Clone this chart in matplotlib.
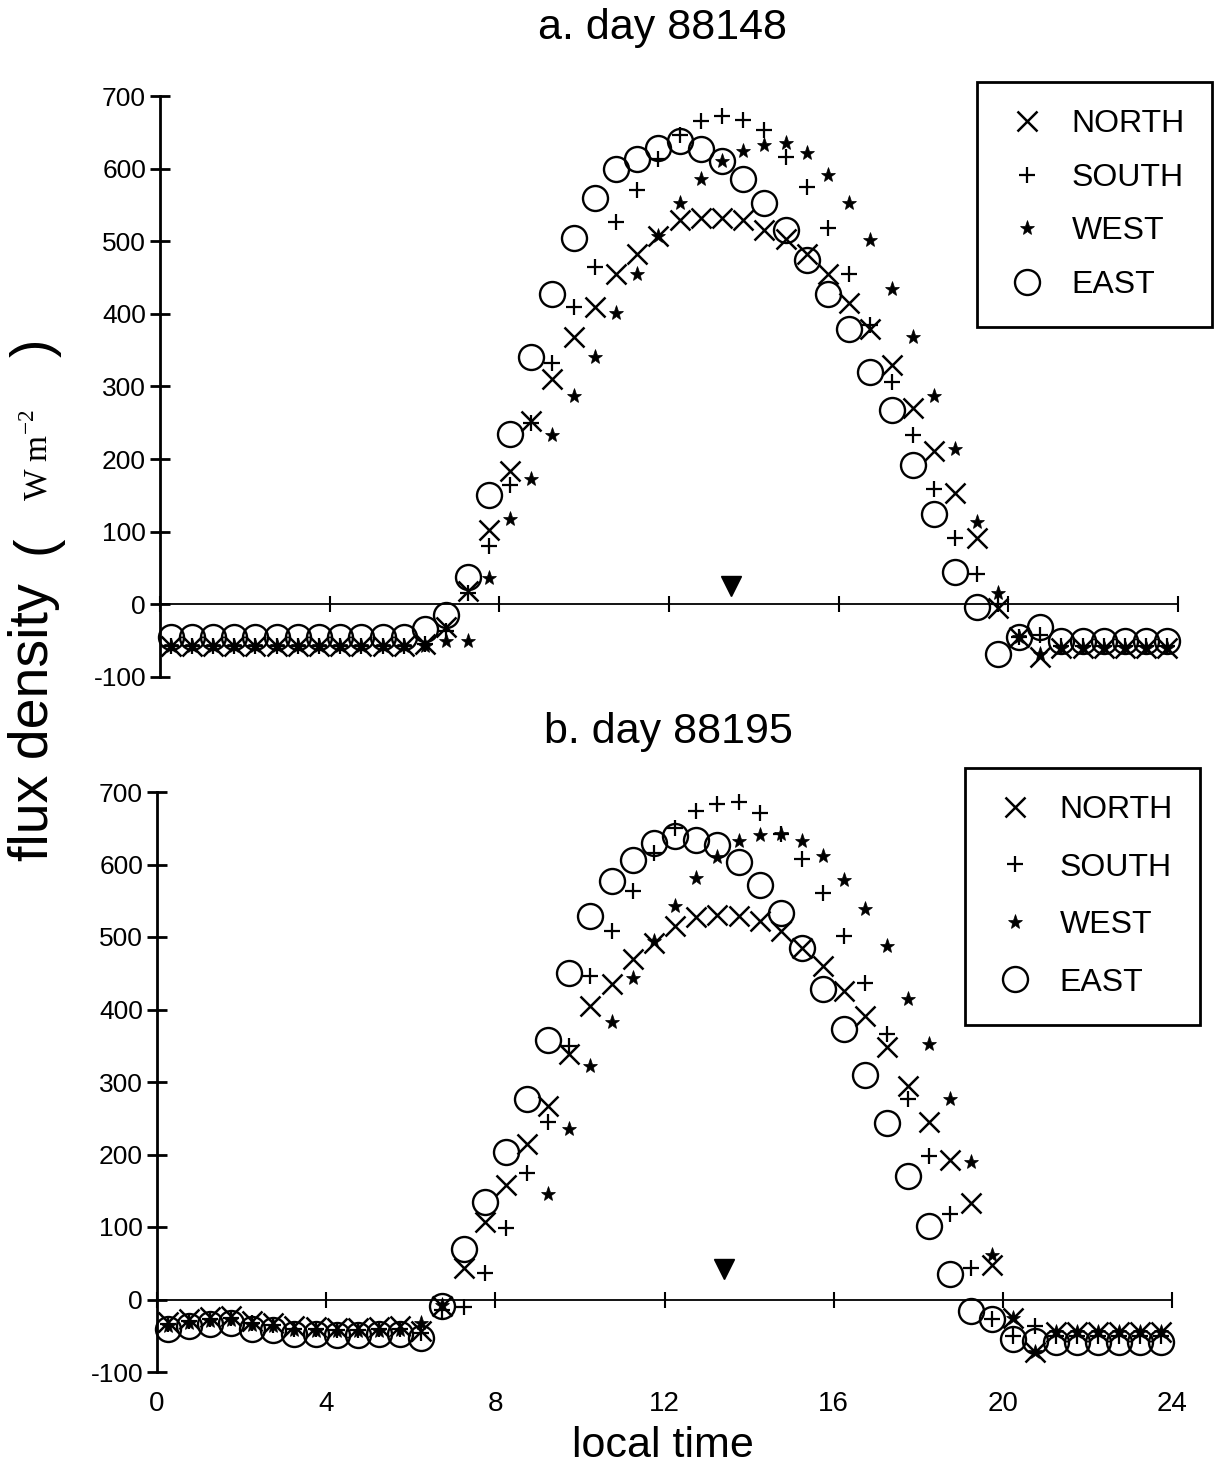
import numpy as np
import matplotlib
matplotlib.use("Agg")
import matplotlib.pyplot as plt
from matplotlib.lines import Line2D

plt.rcParams['font.family'] = ['Liberation Sans', 'DejaVu Sans']
plt.rcParams['axes.unicode_minus'] = False

# half-hourly observations, centred on the quarter hour
hours = np.arange(0.25, 24.0, 0.5)

# a. day 88148
north_a = [-58, -58, -58, -58, -58, -58, -58, -58, -58, -58, -58, -58,
           -55, -31, 18, 102, 184, 252, 311, 368, 409, 455,
           483, 507, 529, 532, 532, 529, 515, 503, 483, 455,
           415, 379, 330, 271, 211, 154, 91, -5, -45, -72,
           -60, -60, -60, -60, -60, -60]
south_a = [-57, -57, -57, -57, -57, -57, -57, -57, -57, -57, -57, -57,
           -55, -36, 15, 80, 165, 250, 333, 409, 464, 526,
           570, 613, 646, 665, 673, 667, 653, 616, 575, 518,
           455, 385, 306, 233, 159, 91, 42, 0, -45, -42,
           -58, -58, -58, -58, -58, -58]
west_a = [-58, -58, -58, -58, -58, -58, -58, -58, -58, -58, -58, -58,
          -58, -50, -50, 37, 118, 173, 233, 287, 341, 401,
          455, 507, 553, 586, 610, 624, 632, 635, 621, 591,
          553, 502, 434, 368, 287, 214, 113, 15, -45, -68,
          -60, -60, -60, -60, -60, -60]
east_a = [-45, -45, -45, -45, -45, -45, -45, -45, -45, -45, -45, -45,
          -34, -15, 38, 151, 235, 341, 428, 504, 559, 600,
          613, 629, 638, 627, 610, 586, 553, 516, 474, 428,
          379, 320, 268, 192, 124, 45, -4, -68, -45, -31,
          -50, -50, -50, -50, -50, -50]

# b. day 88195
north_b = [-31, -27, -24, -23, -30, -32, -37, -38, -39, -39, -38, -37,
           -43, -9, 43, 107, 158, 215, 267, 338, 405, 435,
           469, 492, 515, 527, 531, 529, 522, 508, 485, 460,
           426, 391, 348, 295, 245, 193, 133, 48, -25, -72,
           -45, -45, -45, -45, -45, -45]
south_b = [-34, -30, -27, -26, -33, -35, -40, -41, -42, -42, -41, -40,
           -46, -15, -11, 37, 98, 174, 245, 350, 446, 508,
           563, 616, 650, 674, 684, 686, 671, 642, 607, 561,
           502, 437, 366, 277, 198, 118, 44, -27, -50, -36,
           -50, -50, -50, -50, -50, -50]
west_b = [-36, -32, -29, -28, -35, -37, -42, -43, -44, -44, -43, -42,
          -32, -8, np.nan, np.nan, np.nan, np.nan, 146, 235, 322, 383,
          443, 494, 543, 581, 610, 632, 641, 642, 632, 612,
          579, 538, 488, 414, 353, 277, 190, 62, -25, -72,
          -45, -45, -45, -45, -45, -45]
east_b = [-41, -37, -34, -33, -40, -42, -47, -48, -49, -49, -48, -47,
          -53, -9, 69, 135, 203, 277, 358, 451, 529, 577,
          606, 629, 639, 634, 627, 603, 572, 533, 485, 428,
          373, 309, 243, 170, 101, 35, -16, -27, -54, -57,
          -58, -58, -58, -58, -58, -58]

# solar noon markers (time, value)
noon_a = (13.45, 25)
noon_b = (13.4, 42)

labels = ['NORTH', 'SOUTH', 'WEST', 'EAST']
styles = {
    'NORTH': dict(marker='x', ms=14, mew=1.8, color='black'),
    'SOUTH': dict(marker='+', ms=11, mew=1.6, color='black'),
    'WEST': dict(marker='*', ms=11, mew=0.5, color='black'),
    'EAST': dict(marker='o', ms=18, mew=1.7, mfc='none', mec='black'),
}

W, H = 1221, 1473
fig = plt.figure(figsize=(W / 100, H / 100), dpi=100)


def px_axes(left, right, top, bottom):
    return fig.add_axes([left / W, 1 - bottom / H, (right - left) / W, (bottom - top) / H])


def draw_panel(ax, series, noon, legend_corner, spacing, show_xlabels):
    for lab, vals in zip(labels, series):
        ax.plot(hours, vals, linestyle='none', clip_on=False, label=lab, **styles[lab])
    ax.plot(*noon, marker='v', ms=14, color='black', linestyle='none')

    ax.set_xlim(0, 24)
    ax.set_ylim(-100, 700)
    for s in ['top', 'right']:
        ax.spines[s].set_visible(False)
    ax.spines['left'].set_linewidth(2)
    ax.spines['bottom'].set_position(('data', 0))
    ax.spines['bottom'].set_linewidth(1.3)
    ax.set_yticks(range(-100, 701, 100))
    ax.tick_params(axis='y', direction='inout', length=14, width=2, labelsize=19, pad=3)
    ax.set_xticks(range(0, 25, 4))
    ax.tick_params(axis='x', direction='inout', length=12, width=1.5, labelbottom=False)
    ax.patch.set_visible(False)

    if show_xlabels:
        sec = ax.secondary_xaxis('bottom')
        sec.spines['bottom'].set_visible(False)
        sec.set_xticks(range(0, 25, 4))
        sec.tick_params(length=0, labelsize=20, pad=14)

    handles = [Line2D([], [], linestyle='none', **styles[lab]) for lab in labels]
    leg = ax.legend(handles, labels, loc='upper right',
                    bbox_to_anchor=(legend_corner[0] / W, 1 - legend_corner[1] / H),
                    bbox_transform=fig.transFigure, fontsize=23, frameon=True,
                    fancybox=False, framealpha=1, edgecolor='black', borderpad=0.85,
                    labelspacing=spacing, handlelength=1.4, handletextpad=0.7,
                    borderaxespad=0)
    leg.get_frame().set_linewidth(2)


ax_a = px_axes(160, 1178, 96, 677)
draw_panel(ax_a, [north_a, south_a, west_a, east_a], noon_a, (1212, 82), 0.74, False)

ax_b = px_axes(157, 1172, 792, 1372)
draw_panel(ax_b, [north_b, south_b, west_b, east_b], noon_b, (1200, 768), 0.86, True)

fig.text(662 / W, 1 - 28 / H, 'a. day 88148', ha='center', va='center', fontsize=31)
fig.text(668 / W, 1 - 732 / H, 'b. day 88195', ha='center', va='center', fontsize=31)
fig.text(663 / W, 1 - 1446 / H, 'local time', ha='center', va='center', fontsize=31)

# y label pieces: sans text, thin parentheses, serif units
fig.text(34 / W, 1 - 722 / H, 'flux density', rotation=90, ha='center', va='center', fontsize=40)
fig.text(36 / W, 1 - 545 / H, '(', rotation=90, ha='center', va='center', fontsize=40,
         fontweight='light')
fig.text(38 / W, 1 - 455 / H, r'W m$^{\mathdefault{-2}}$', rotation=90, ha='center', va='center',
         fontsize=24, family='Liberation Serif')
fig.text(36 / W, 1 - 348 / H, ')', rotation=90, ha='center', va='center', fontsize=40,
         fontweight='light')

fig.savefig('out.png', dpi=100)
